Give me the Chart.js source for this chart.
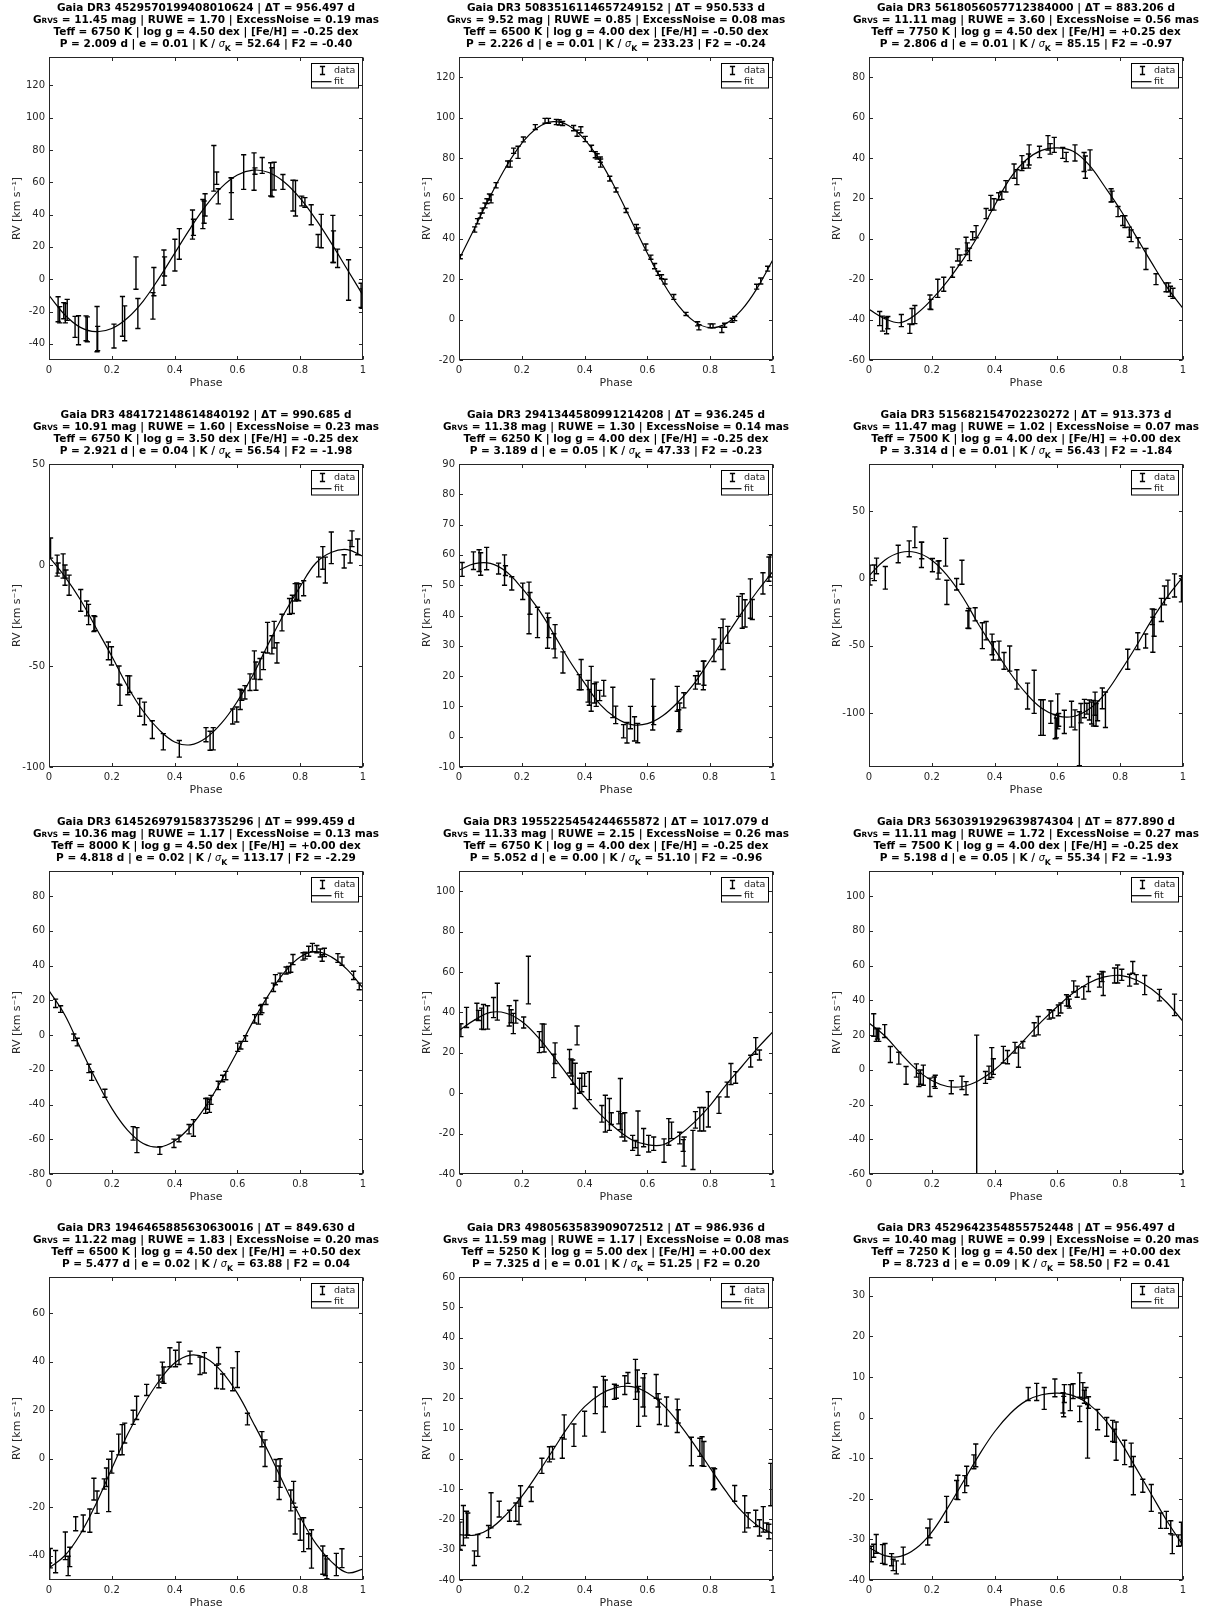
<!DOCTYPE html>
<html><head><meta charset="utf-8">
<script src="https://cdn.jsdelivr.net/npm/chart.js@4.4.1/dist/chart.umd.min.js"></script>
<style>
html,body{margin:0;padding:0;background:#fff;overflow:hidden;width:1206px;height:1611px;position:relative;}
canvas{position:absolute;}
</style></head><body>
<script>
// ---------- panel header values ----------
const sourceIds = ['4529570199408010624','5083516114657249152','5618056057712384000','484172148614840192','2941344580991214208','515682154702230272','6145269791583735296','1955225454244655872','5630391929639874304','1946465885630630016','4980563583909072512','4529642354855752448'];
const deltaT = ['956.497','950.533','883.206','990.685','936.245','913.373','999.459','1017.079','877.890','849.630','986.936','956.497'];
const gRvs = ['11.45','9.52','11.11','10.91','11.38','11.47','10.36','11.33','11.11','11.22','11.59','10.40'];
const ruwe = ['1.70','0.85','3.60','1.60','1.30','1.02','1.17','2.15','1.72','1.83','1.17','0.99'];
const excessNoise = ['0.19','0.08','0.56','0.23','0.14','0.07','0.13','0.26','0.27','0.20','0.08','0.20'];
const teff = ['6750','6500','7750','6750','6250','7500','8000','6750','7500','6500','5250','7250'];
const logg = ['4.50','4.00','4.50','3.50','4.00','4.00','4.50','4.00','4.00','4.50','5.00','4.50'];
const feh = ['-0.25','-0.50','+0.25','-0.25','-0.25','+0.00','+0.00','-0.25','-0.25','+0.50','+0.00','+0.00'];
const period = ['2.009','2.226','2.806','2.921','3.189','3.314','4.818','5.052','5.198','5.477','7.325','8.723'];
const ecc = ['0.01','0.01','0.01','0.04','0.05','0.01','0.02','0.00','0.05','0.02','0.01','0.09'];
const kSig = ['52.64','233.23','85.15','56.54','47.33','56.43','113.17','51.10','55.34','63.88','51.25','58.50'];
const f2 = ['-0.40','-0.24','-0.97','-1.98','-0.23','-1.84','-2.29','-0.96','-1.93','0.04','0.20','0.41'];

// ---------- axes ----------
const xTicks = [0, 0.2, 0.4, 0.6, 0.8, 1];
const yMins = [-50, -20, -60, -100, -10, -140, -80, -40, -60, -50, -40, -40];
const yMaxs = [137.5, 130, 90, 50, 90, 85, 94.5, 110, 114.5, 75, 60, 34.6];
const yTicks1 = [-40,-20,0,20,40,60,80,100,120];
const yTicks2 = [-20,0,20,40,60,80,100,120];
const yTicks3 = [-60,-40,-20,0,20,40,60,80];
const yTicks4 = [-100,-50,0,50];
const yTicks5 = [-10,0,10,20,30,40,50,60,70,80,90];
const yTicks6 = [-100,-50,0,50];
const yTicks7 = [-80,-60,-40,-20,0,20,40,60,80];
const yTicks8 = [-40,-20,0,20,40,60,80,100];
const yTicks9 = [-60,-40,-20,0,20,40,60,80,100];
const yTicks10 = [-40,-20,0,20,40,60];
const yTicks11 = [-40,-30,-20,-10,0,10,20,30,40,50,60];
const yTicks12 = [-40,-30,-20,-10,0,10,20,30];

// ---------- fitted curves (RV read at these phases) ----------
const fitPhase = [0,0.05,0.1,0.15,0.2,0.25,0.3,0.35,0.4,0.45,0.5,0.55,0.6,0.65,0.7,0.75,0.8,0.85,0.9,0.95,1];
const fit1 = [-10,-22,-29.8,-32.5,-30.5,-24,-13.5,0.5,16,31.5,45.5,57,64.5,67.5,66,60,50,37,22,6,-10];
const fit2 = [29.7,45.4,61.2,75.7,87.3,95,98,96,89.2,78.3,64.3,48.6,32.8,18.3,6.7,-1,-4,-2,4.8,15.7,29.7];
const fit3 = [-34.9,-39.5,-41.5,-37.3,-30,-20.9,-10.2,2.1,16.5,30,39,43.8,45,43.3,36.7,26,14.5,1.3,-11.8,-24.2,-34.5];
const fit4 = [4,-5.6,-17.2,-31.2,-45.2,-60,-72.4,-81.5,-87.6,-89,-85.6,-78.2,-67.5,-54.3,-38.6,-23.8,-10.6,1,6.3,7.6,4.3];
const fit5 = [55,57.1,57.2,54.5,49.1,42.5,34.2,25.4,17.7,10.6,6.2,4,4.3,7,11.7,17.7,25.4,33.1,40.8,48,54.6];
const fit6 = [2,13.6,19.3,19.3,13.6,2,-14.3,-34.6,-52.6,-70.4,-85.2,-96.4,-102,-102.5,-97.1,-86,-69.2,-50.7,-30.9,-13.6,1.2];
const fit7 = [25.6,11.7,-7.5,-25.8,-42.2,-54.7,-62.4,-64.5,-61,-52.8,-40.8,-25.8,-9.4,7.9,23.3,36.2,45,48.1,44.9,37.7,27.1];
const fit8 = [31,36.3,40,39.6,35.5,28,18.4,8.1,-1.8,-10.5,-17.5,-23,-25.5,-25.5,-20.9,-14.3,-6,4,13.1,22.2,30.5];
const fit9 = [27,19.6,9.6,0.4,-6.2,-9.6,-9.6,-6.2,0,8.7,18.3,27.9,36.5,44.2,50,53.5,54.4,51.9,46.5,38.5,27.9];
const fit10 = [-45,-40,-31,-18.5,-4,10,22,32,39.5,42.8,41.5,36,27,15,2.5,-11,-24,-35,-42.5,-47,-45.5];
const fit11 = [-25,-25.2,-23,-18.4,-12.4,-5,3,10.9,17.2,21.3,23.5,23.8,21.8,17.8,11.7,4.6,-3.1,-10.7,-17.3,-22,-24.7];
const fit12 = [-32,-34,-34.2,-32.2,-28.2,-22.3,-15.8,-9.3,-3.5,1,4.1,5.6,6,5.4,3.3,-0.4,-5.8,-12.4,-19,-25.6,-31.5];

// ---------- observations: [phase, RV, error] ----------
const obs1 = [[0.029,-18.6,7.7],[0.034,-22,5],[0.047,-19.5,5],[0.052,-21,6],[0.058,-19,6.5],[0.083,-29.5,6.5],[0.094,-31.6,9],[0.118,-30.4,7.7],[0.122,-31,7.7],[0.153,-30.9,14],[0.155,-36.7,7.5],[0.207,-35.2,7.4],[0.234,-23,12.3],[0.241,-27.3,10.8],[0.277,3.8,10],[0.283,-21.2,9.3],[0.331,-16.5,8.2],[0.334,-1.5,8.7],[0.366,7.2,10.9],[0.368,7.9,5.9],[0.401,14.9,9.8],[0.415,21.8,9.5],[0.457,33.8,9],[0.46,32.1,5],[0.49,40.3,9],[0.494,41.5,6.9],[0.497,46,6.9],[0.525,68.6,14.1],[0.534,62.5,3.8],[0.539,51.3,4.7],[0.58,49.9,12.9],[0.581,58.2,4.6],[0.62,66.3,10.7],[0.653,66.6,11.6],[0.656,66.9,2],[0.679,70.4,4.9],[0.706,61.8,10.3],[0.71,60,9],[0.717,63.8,8.6],[0.745,60.2,4.6],[0.777,51.7,9.5],[0.785,50.1,11],[0.805,48.4,3],[0.815,47.5,3],[0.835,39.9,6.2],[0.857,23.7,4],[0.867,29.8,10.3],[0.904,24.9,14.6],[0.906,20.1,9.8],[0.919,12.9,5.7],[0.954,-0.5,12.5],[0.994,-10,7.5],[0.997,-12,6]];
const obs2 = [[0.004,31.1,1],[0.05,44.6,1.3],[0.059,48.7,1.3],[0.068,51.5,1.2],[0.074,54,1.2],[0.083,56.5,1.2],[0.089,58.6,1.2],[0.097,60.7,1.5],[0.102,59.8,2],[0.118,66.5,1.3],[0.155,77,1.5],[0.163,77,1.5],[0.174,83.6,1.3],[0.188,82.8,3],[0.205,89.2,1.2],[0.243,95.3,1.2],[0.274,98.4,1.2],[0.285,98.4,1.2],[0.31,97.8,1.3],[0.319,97.6,1.3],[0.33,97.1,1],[0.365,94.8,1.3],[0.376,92.3,1.5],[0.388,94,1.5],[0.402,89.4,1.3],[0.422,84.8,1.5],[0.434,81.6,1.5],[0.44,80.8,1.3],[0.45,79.2,1.3],[0.451,77.5,2],[0.48,69.8,1.2],[0.5,64.2,1],[0.532,54,1],[0.565,45.9,1.2],[0.57,44.1,1.3],[0.595,35.9,1.5],[0.611,30.9,1],[0.623,26.5,1.3],[0.634,22.9,1],[0.645,21.2,1],[0.656,18.8,1.2],[0.684,11.2,1.2],[0.723,2.8,0.8],[0.76,-2.1,1],[0.764,-3.8,1.3],[0.8,-3.1,1],[0.809,-3.1,1],[0.837,-5.1,1.3],[0.846,-2.8,1],[0.87,-0.3,1],[0.878,0.5,1],[0.948,16.3,1.2],[0.961,19.1,1.5],[0.983,25.2,1.2]];
const obs3 = [[0.034,-39.5,3.5],[0.043,-42,3.7],[0.056,-43,4],[0.06,-41.5,3],[0.103,-40.5,3],[0.13,-44.5,2.3],[0.137,-38.5,4],[0.146,-37.5,4.5],[0.194,-31.3,3.5],[0.197,-32.5,2.5],[0.219,-24.5,4.5],[0.238,-22.5,3.5],[0.266,-16.5,2.5],[0.282,-8,3],[0.29,-10.5,2.5],[0.309,-3.5,4.3],[0.313,-4,2],[0.32,-7.7,3.1],[0.33,1.5,2],[0.341,3.5,3],[0.373,12.5,2.5],[0.388,17.8,3.7],[0.398,17,2.8],[0.413,21,1.8],[0.423,21.5,2],[0.436,26,2.8],[0.462,33.5,3.5],[0.471,30.5,3.7],[0.487,37.5,3.7],[0.492,36.5,1.6],[0.508,38.5,3.5],[0.51,41.5,5],[0.543,43,2.8],[0.57,47.5,3.6],[0.577,44.5,2.6],[0.59,46.5,3.7],[0.617,42.5,2.7],[0.628,40.5,2.3],[0.656,42.5,4],[0.685,38,4.7],[0.689,35.5,5.5],[0.704,39,5],[0.771,21.5,3.3],[0.774,21,2.6],[0.793,13.5,2.5],[0.808,9,2.4],[0.815,8.5,2.9],[0.829,3.3,2.5],[0.835,1.5,2.9],[0.857,-2,2.5],[0.882,-10,5.2],[0.914,-20,2.7],[0.946,-24,2.2],[0.954,-24,2.2],[0.96,-26,2.5],[0.968,-27,2.5]];
const obs4 = [[0.005,8.4,5],[0.026,-0.3,5.2],[0.029,-1.5,2.5],[0.045,-0.5,6],[0.051,-5,5],[0.054,-4.5,2],[0.064,-10,5],[0.101,-17.5,5.4],[0.12,-21.5,3.7],[0.126,-24.5,5],[0.143,-29,3.9],[0.146,-29,3.5],[0.189,-42.5,4.4],[0.199,-45,4.5],[0.223,-54.5,4.5],[0.226,-64.5,5],[0.251,-59.5,4.7],[0.257,-59,4.1],[0.289,-70.5,4.4],[0.304,-73.5,5.6],[0.329,-81.5,4.4],[0.364,-87.5,4],[0.415,-91,4.1],[0.5,-84,3.5],[0.513,-87,4.7],[0.523,-86,5.5],[0.585,-75,3.7],[0.598,-74,3.7],[0.609,-66.5,5],[0.614,-64.5,2.5],[0.624,-63,3.3],[0.64,-58,4.1],[0.654,-49.5,7],[0.659,-55,7],[0.672,-51.5,5.2],[0.683,-47.5,4.3],[0.696,-36,7.6],[0.71,-39.5,4.5],[0.717,-34.5,6.6],[0.726,-43.5,5],[0.742,-28.5,4.1],[0.766,-20.5,3.9],[0.775,-19.5,4.5],[0.784,-13.5,4.3],[0.789,-13,4.1],[0.795,-13.5,4.2],[0.811,-11.5,3.7],[0.859,-1,4.9],[0.872,3.5,5.6],[0.88,-2.5,6.4],[0.899,8.5,7.8],[0.94,1.8,3.3],[0.959,6.6,5.6],[0.965,13,3.9],[0.983,9,3.9]];
const obs5 = [[0.01,55.2,2.3],[0.046,58.1,2.9],[0.064,58.1,3.6],[0.069,57,3.7],[0.088,58.8,3.7],[0.126,55.5,1.8],[0.145,55,5],[0.148,54.8,1.6],[0.168,50.6,2.2],[0.203,48,2.7],[0.223,42.5,8.5],[0.226,44,3.6],[0.25,37.7,5],[0.282,35,5.8],[0.286,36,3.3],[0.302,31.5,2.5],[0.306,31.5,5.5],[0.331,24.5,3.5],[0.383,18,2.5],[0.389,20.5,5],[0.411,15,3.6],[0.415,13,2.6],[0.421,15.8,7.4],[0.432,14.3,3.2],[0.437,14,4],[0.448,13.6,1.7],[0.461,16,2.6],[0.49,11.3,5],[0.499,7.2,2.9],[0.524,1.8,2.2],[0.535,1.3,3.4],[0.546,6.3,3.7],[0.559,2.6,4],[0.569,1.2,3.2],[0.617,10.6,8.4],[0.62,7,3],[0.695,12.5,4.1],[0.7,5.3,3.6],[0.703,6.7,4.4],[0.716,12,2.5],[0.753,17.9,2.2],[0.762,19.5,2.1],[0.778,20.2,4.7],[0.78,21,4],[0.812,28.5,3.7],[0.833,32.4,3.6],[0.841,30.5,8.3],[0.856,33.6,2.8],[0.891,43,3.3],[0.902,41.5,5.7],[0.911,40.7,4.5],[0.928,45.6,6.5],[0.934,42,3.3],[0.968,50.6,3.5],[0.987,55.3,4],[0.991,56.4,3.7]];
const obs6 = [[0.003,2.5,7.4],[0.017,4.2,5.8],[0.024,9.3,5.8],[0.052,0.5,8.4],[0.093,18.2,6.5],[0.128,22,5.9],[0.146,30.6,7.7],[0.167,17.5,9.4],[0.168,20.8,6.2],[0.202,9.9,4.9],[0.22,6.2,6.7],[0.223,8.6,4.6],[0.244,19.5,10.3],[0.248,-10.3,9],[0.279,-4.3,4.3],[0.296,4.6,8.9],[0.315,-30.5,6.5],[0.318,-29.7,7.4],[0.338,-26.6,4.9],[0.361,-42.5,9.6],[0.373,-38.8,6.8],[0.392,-49,7.7],[0.396,-53.8,6.8],[0.414,-53.5,7],[0.43,-61.2,6.2],[0.448,-59.5,9.3],[0.471,-75,7.2],[0.505,-87.3,9.6],[0.526,-84.2,16],[0.547,-103.3,13.2],[0.555,-103.3,13.2],[0.579,-99.3,8.3],[0.593,-110,9],[0.597,-111,7.4],[0.601,-98.7,13],[0.604,-105,4.7],[0.622,-106.5,8.6],[0.645,-100.8,9.6],[0.656,-105,7.4],[0.67,-119,20],[0.675,-100,7.2],[0.686,-96.6,6.8],[0.694,-96.7,4],[0.702,-97.7,7.4],[0.709,-99.9,8.2],[0.715,-100,9.5],[0.72,-93,8.6],[0.723,-101.3,8.4],[0.728,-98.3,7.4],[0.743,-89,7.7],[0.753,-97.5,13.2],[0.824,-60,7.4],[0.856,-46.5,6.2],[0.881,-46.4,5.2],[0.902,-28.5,5.8],[0.904,-41.8,13],[0.908,-33,9.9],[0.931,-23.4,8.6],[0.941,-12.6,7],[0.952,-8,6.8],[0.973,-5.2,8.6],[0.995,-7.8,9.6],[0.998,0.6,1.5]];
const obs7 = [[0.021,18.3,2.4],[0.037,15,1.9],[0.079,-1.3,1.9],[0.09,-4,2.2],[0.127,-19.2,2.4],[0.136,-23.6,2.5],[0.178,-33.5,2.3],[0.268,-56.6,3.9],[0.28,-60.5,7.2],[0.353,-66.5,2.2],[0.398,-62.3,2.4],[0.414,-59.5,1.9],[0.446,-54.2,2.7],[0.46,-53.5,4.8],[0.499,-40.8,4.3],[0.504,-39.5,3.2],[0.511,-40.8,3.7],[0.516,-37.3,2.6],[0.539,-29,2.4],[0.553,-25,1.9],[0.563,-23.3,2.4],[0.601,-7,2.4],[0.611,-5.8,2.2],[0.626,-2,1.6],[0.655,9.4,2.4],[0.667,9.2,2.9],[0.674,14.4,2.6],[0.678,15.3,2.4],[0.691,19.5,1.9],[0.715,27.5,2.4],[0.721,31.9,2.9],[0.736,33.3,2.4],[0.755,37.2,2],[0.763,37.7,1.9],[0.77,38.9,2.7],[0.777,43.5,2.9],[0.809,45.3,2.1],[0.816,45.8,1.9],[0.827,48.3,2.9],[0.839,50.4,2.4],[0.853,49.5,2.1],[0.864,47.3,2.3],[0.87,44.4,1.9],[0.877,47.6,2.4],[0.92,44.4,2.5],[0.933,42.6,2.4],[0.97,34.4,2.4],[0.988,28,1.9]];
const obs8 = [[0.006,31.2,3.2],[0.024,37.5,5],[0.057,40.4,4.1],[0.062,38.5,2.5],[0.072,36.9,5.2],[0.078,37.7,6.2],[0.091,37.5,5.8],[0.11,42.4,5],[0.122,45.3,9.1],[0.16,38.3,5],[0.166,38.1,3.2],[0.173,34.5,5],[0.181,40.3,5.6],[0.206,35,2.7],[0.221,56,11.8],[0.256,25.3,5.2],[0.265,28.5,5.8],[0.271,27.3,6.9],[0.302,13.5,5.8],[0.306,19.8,5.1],[0.352,15.8,5.8],[0.357,12.7,4.2],[0.362,10.4,6],[0.37,3.6,11.2],[0.376,28.6,4.7],[0.384,3.7,3.7],[0.391,5.3,4.6],[0.4,6.6,3.2],[0.415,3.7,6.9],[0.455,-10.2,4.1],[0.466,-10.1,9.1],[0.479,-10.5,7.9],[0.485,-12.6,2.9],[0.509,-12.1,3.1],[0.514,-5.4,12.7],[0.519,-15.9,5.8],[0.528,-16.7,7],[0.553,-24.6,3.7],[0.562,-25.2,1.8],[0.57,-19.8,11],[0.588,-22,4.5],[0.604,-25,4.1],[0.62,-25,3.3],[0.653,-28.4,5.8],[0.668,-19.2,6.6],[0.677,-18.4,4.1],[0.703,-22.2,2.9],[0.714,-25.9,2.9],[0.717,-28.9,7.2],[0.745,-28.1,9.7],[0.753,-13.2,4.1],[0.767,-12.9,5.8],[0.779,-12.9,5.8],[0.794,-8,8.7],[0.828,-5.9,4.1],[0.854,1.8,3.7],[0.866,9.5,5.2],[0.881,7.8,2.9],[0.929,15.9,2.9],[0.945,23.4,4.1],[0.957,18.9,2.5]];
const obs9 = [[0.015,25.8,6.5],[0.023,20,3.6],[0.027,20.8,3.1],[0.031,20,3.6],[0.05,22.3,3.7],[0.068,8.8,4.6],[0.095,6.7,3.4],[0.118,-3.2,5.1],[0.151,-0.4,3.8],[0.159,-5.8,3.8],[0.164,-4.2,4.1],[0.173,-3.1,5.8],[0.194,-10.1,5.3],[0.208,-6.9,2.8],[0.211,-6.9,3.8],[0.262,-10,3.8],[0.296,-7.5,3.8],[0.309,-10.6,3.8],[0.343,-22,42],[0.371,-4.4,3.4],[0.382,-1.7,3.8],[0.391,4.2,8.6],[0.396,1.9,4.5],[0.428,8.7,4.8],[0.441,7.3,3.8],[0.465,12.7,3.1],[0.476,7.3,5.8],[0.49,14.4,1.9],[0.526,23.3,3.8],[0.539,25.4,5.3],[0.574,31.9,2.7],[0.585,32,2.2],[0.603,34.2,3.1],[0.611,35.6,2.9],[0.629,40,3.2],[0.635,39.5,2.9],[0.638,38.1,2.6],[0.652,48,3.2],[0.663,45,3.2],[0.684,44.3,3.6],[0.699,49.4,4.3],[0.734,51.4,3.8],[0.742,53.7,2.9],[0.746,49.6,6.8],[0.782,54.3,4.3],[0.792,55.2,5.2],[0.805,54.7,3.2],[0.83,51.6,3.4],[0.84,59,3.4],[0.851,52.1,2.7],[0.878,48.8,5.5],[0.925,43,3.3],[0.973,37.4,6.2]];
const obs10 = [[0.002,-48,5],[0.004,-41,4],[0.021,-42.4,4.6],[0.052,-35.9,5.7],[0.061,-44.2,4],[0.066,-40.5,4],[0.085,-26.8,2.9],[0.109,-26.6,3.4],[0.13,-25.5,4.8],[0.143,-12.5,4.5],[0.153,-17.9,4.6],[0.176,-10.4,2.1],[0.183,-7.6,3.8],[0.19,-11,10.8],[0.2,-1.4,4.5],[0.222,5.9,4.3],[0.233,7.9,6.2],[0.241,10.6,4.1],[0.268,17.1,2.9],[0.279,21,4.8],[0.311,28.4,2.3],[0.35,31.9,2.6],[0.361,35.8,4.1],[0.366,34.5,3.4],[0.385,41.9,3.9],[0.403,41.4,3.4],[0.414,43.5,4.6],[0.449,41.8,2.6],[0.481,38.4,3.6],[0.495,39.6,4.2],[0.534,33.8,4.8],[0.54,42.5,3.4],[0.553,31.9,3.1],[0.585,32.8,4.7],[0.6,36.8,7.4],[0.632,16.4,2.4],[0.678,8.1,3.1],[0.688,2.3,5.5],[0.723,-4.8,4.5],[0.733,-9.9,6.9],[0.736,-5.9,5.9],[0.77,-17.2,4.3],[0.779,-13.8,4.5],[0.784,-25.5,5.5],[0.8,-29.2,4.4],[0.811,-31.3,7],[0.827,-34,3.1],[0.836,-37.2,7.9],[0.872,-41.8,5.8],[0.88,-44.1,4.1],[0.885,-45.4,4.1],[0.915,-43.6,4.6],[0.933,-41,3.9]];
const obs11 = [[0.003,-25.4,4.5],[0.014,-22,6.6],[0.024,-21.7,4.4],[0.028,-21.5,3.6],[0.049,-32.8,2.4],[0.06,-28.6,3.6],[0.094,-24,2],[0.102,-17,5.8],[0.128,-16.6,2.6],[0.161,-18.8,1.8],[0.181,-17.6,3],[0.191,-17.3,4.4],[0.196,-12.3,3.4],[0.23,-11.7,2.4],[0.264,-2.3,2.5],[0.288,1.5,2.5],[0.298,2,2.1],[0.329,3.6,3.4],[0.335,10.5,4],[0.366,7.8,3.7],[0.4,11.6,4.1],[0.434,19.3,4.4],[0.46,18,9.2],[0.466,21.6,4.4],[0.495,22.1,2.5],[0.501,22.1,2.1],[0.528,24.3,3.1],[0.538,26.7,1.8],[0.562,26.2,6.6],[0.568,25.7,3.6],[0.572,17.3,6.6],[0.586,21.9,4.8],[0.591,21.1,7],[0.628,23.9,3.9],[0.634,19.3,2.2],[0.638,15.5,4.2],[0.661,15.6,4.8],[0.695,14.2,5.5],[0.698,14,2.2],[0.74,2.4,4.7],[0.767,3.8,3],[0.774,2.5,4.8],[0.78,1.6,4.1],[0.81,-6.6,3.6],[0.814,-6.6,3.3],[0.878,-11.4,2.6],[0.91,-18.2,6],[0.921,-20.3,2.5],[0.945,-19.7,2.7],[0.957,-22.8,2.7],[0.969,-20,4.2],[0.98,-22.7,1.5],[0.987,-24,2.4],[0.993,-8.5,7]];
const obs12 = [[0.007,-33.6,1.9],[0.015,-32.8,1.6],[0.023,-31.1,2.3],[0.043,-33.6,2.3],[0.051,-33.6,2.6],[0.072,-35,1.5],[0.077,-36.3,1.4],[0.087,-36.9,1.6],[0.109,-34,2.1],[0.187,-29.3,2.1],[0.194,-27.3,2.3],[0.247,-22.6,3.2],[0.279,-17.8,2.3],[0.283,-17.2,3],[0.305,-16.4,2.1],[0.311,-14.4,2.4],[0.334,-10.9,1.7],[0.34,-9.3,2.8],[0.507,5.8,1.6],[0.534,6.3,2.1],[0.558,4.7,2.7],[0.592,7.3,2.2],[0.618,3.6,2.5],[0.62,2.7,2.5],[0.622,5.9,2.2],[0.641,4.9,3.2],[0.65,6.5,1.8],[0.671,8,3],[0.671,0.9,1.9],[0.681,6.6,2],[0.686,5.1,1.6],[0.691,6.1,1.3],[0.696,-3.4,6.6],[0.699,3.7,1.4],[0.728,-0.5,2.5],[0.757,-2.3,2.3],[0.776,-3.3,2.6],[0.782,-4.5,1.6],[0.787,-5.8,4.7],[0.814,-8.6,3],[0.835,-9.2,2.9],[0.842,-14.3,4.7],[0.872,-16.8,1.6],[0.899,-19.8,3.3],[0.929,-25.4,1.9],[0.947,-25.2,2.1],[0.961,-27,1.6],[0.966,-31.2,2.3],[0.986,-30.3,1.4],[0.995,-28.7,2.9]];

const obsSets = [obs1,obs2,obs3,obs4,obs5,obs6,obs7,obs8,obs9,obs10,obs11,obs12];
const fitSets = [fit1,fit2,fit3,fit4,fit5,fit6,fit7,fit8,fit9,fit10,fit11,fit12];
const yTickSets = [yTicks1,yTicks2,yTicks3,yTicks4,yTicks5,yTicks6,yTicks7,yTicks8,yTicks9,yTicks10,yTicks11,yTicks12];

// ---------- rendering ----------
const FAM = '"DejaVu Sans", sans-serif';
Chart.defaults.font.family = FAM;
const AX = '#262626';
const B10 = 'bold 10.5px ' + FAM, B7 = 'bold 7.3px ' + FAM, I9 = 'italic 9.8px ' + FAM, BK = 'bold 7.8px ' + FAM;
const colLeft = [0, 410, 820], rowTop = [0, 407, 814, 1220];
const CW = 385, CH = 394;

function makePanel(i) {
  const obs = obsSets[i], fit = fitSets[i], yT = yTickSets[i];
  const cv = document.createElement('canvas');
  cv.width = CW; cv.height = CH;
  cv.style.left = colLeft[i % 3] + 'px';
  cv.style.top = rowTop[Math.floor(i / 3)] + 'px';
  cv.style.width = CW + 'px'; cv.style.height = CH + 'px';
  document.body.appendChild(cv);

  const titleLines = [
    [[`Gaia DR3 ${sourceIds[i]} | \u0394T = ${deltaT[i]} d`, B10, 0]],
    [['G', B10, 0], ['RVS', B7, 0], [` = ${gRvs[i]} mag | RUWE = ${ruwe[i]} | ExcessNoise = ${excessNoise[i]} mas`, B10, 0]],
    [[`Teff = ${teff[i]} K | log g = ${logg[i]} dex | [Fe/H] = ${feh[i]} dex`, B10, 0]],
    [[`P = ${period[i]} d | e = ${ecc[i]} | K / `, B10, 0], ['\u03C3', I9, 0], ['K', BK, 3.5], [` = ${kSig[i]} | F2 = ${f2[i]}`, B10, 0]]
  ];
  const baselines = [-46.4, -34.2, -22.0, -9.8];

  const errPlugin = {
    id: 'errbars' + i,
    afterDatasetsDraw(chart) {
      const {ctx, chartArea: a, scales: {x, y}} = chart;
      ctx.save();
      ctx.beginPath(); ctx.rect(a.left, a.top, a.right - a.left, a.bottom - a.top); ctx.clip();
      ctx.strokeStyle = '#000'; ctx.lineWidth = 1.4; ctx.lineCap = 'butt';
      obs.forEach(([p, v, e]) => {
        const px = x.getPixelForValue(p);
        const y1 = y.getPixelForValue(v - e), y2 = y.getPixelForValue(v + e);
        ctx.beginPath();
        ctx.moveTo(px, y1); ctx.lineTo(px, y2);
        ctx.moveTo(px - 2.6, y1); ctx.lineTo(px + 2.6, y1);
        ctx.moveTo(px - 2.6, y2); ctx.lineTo(px + 2.6, y2);
        ctx.stroke();
      });
      ctx.restore();
    }
  };

  const decoPlugin = {
    id: 'deco' + i,
    afterDraw(chart) {
      const {ctx, chartArea: a, scales: {x, y}} = chart;
      ctx.save();
      ctx.strokeStyle = AX; ctx.lineWidth = 1;
      const L = Math.round(a.left) + 0.5, R = Math.round(a.right) - 0.5;
      const T = Math.round(a.top) + 0.5, Bm = Math.round(a.bottom) - 0.5;
      ctx.strokeRect(L, T, R - L, Bm - T);
      ctx.beginPath();
      yT.forEach(v => {
        const py = Math.round(y.getPixelForValue(v)) + 0.5;
        ctx.moveTo(L, py); ctx.lineTo(L + 3.5, py);
        ctx.moveTo(R, py); ctx.lineTo(R - 3.5, py);
      });
      xTicks.forEach(v => {
        const px = Math.round(x.getPixelForValue(v)) + 0.5;
        ctx.moveTo(px, Bm); ctx.lineTo(px, Bm - 3.5);
        ctx.moveTo(px, T); ctx.lineTo(px, T + 3.5);
      });
      ctx.stroke();
      // legend
      const bw = 47, bh = 24.5;
      const bx = Math.round(a.right - 5.5 - bw) + 0.5, by = Math.round(a.top + 5.5) + 0.5;
      ctx.fillStyle = '#fff'; ctx.fillRect(bx, by, bw, bh);
      ctx.strokeStyle = '#000'; ctx.lineWidth = 1; ctx.strokeRect(bx, by, bw, bh);
      const r1 = by + 7, r2 = by + 18.2, ix = bx + 11;
      ctx.lineWidth = 1.4; ctx.beginPath();
      ctx.moveTo(ix, r1 - 4); ctx.lineTo(ix, r1 + 4);
      ctx.moveTo(ix - 2.6, r1 - 4); ctx.lineTo(ix + 2.6, r1 - 4);
      ctx.moveTo(ix - 2.6, r1 + 4); ctx.lineTo(ix + 2.6, r1 + 4);
      ctx.stroke();
      ctx.lineWidth = 1.2; ctx.beginPath();
      ctx.moveTo(bx, r2); ctx.lineTo(bx + 20, r2); ctx.stroke();
      ctx.fillStyle = AX; ctx.font = '9.5px ' + FAM;
      ctx.textAlign = 'left'; ctx.textBaseline = 'middle';
      ctx.fillText('data', bx + 22.5, r1);
      ctx.fillText('fit', bx + 22.5, r2);
      // title
      ctx.fillStyle = '#000'; ctx.textBaseline = 'alphabetic';
      const cx = (a.left + a.right) / 2;
      titleLines.forEach((segs, li) => {
        let total = 0;
        segs.forEach(s => { ctx.font = s[1]; total += ctx.measureText(s[0]).width; });
        let xx = cx - total / 2;
        const base = a.top + baselines[li];
        segs.forEach(s => {
          ctx.font = s[1];
          ctx.fillText(s[0], xx, base + s[2]);
          xx += ctx.measureText(s[0]).width;
        });
      });
      ctx.restore();
    }
  };

  new Chart(cv, {
    type: 'scatter',
    data: {
      datasets: [
        { label: 'data', data: obs.map(o => ({x: o[0], y: o[1]})), pointRadius: 0, showLine: false, borderColor: '#000' },
        { label: 'fit', data: fitPhase.map((p, k) => ({x: p, y: fit[k]})), showLine: true, borderColor: '#000',
          borderWidth: 1.2, pointRadius: 0, tension: 0.4, fill: false }
      ]
    },
    options: {
      responsive: false, animation: false, events: [],
      layout: { padding: { left: 0, top: 57, right: 22, bottom: 0 } },
      plugins: { legend: { display: false }, tooltip: { enabled: false }, title: { display: false } },
      scales: {
        x: {
          type: 'linear', min: 0, max: 1,
          grid: { display: false, drawTicks: false }, border: { display: false },
          afterBuildTicks: s => { s.ticks = xTicks.map(v => ({ value: v })); },
          afterFit: s => { s.height = 34; },
          ticks: { padding: 4, color: AX, font: { size: 10 }, maxRotation: 0, autoSkip: false, callback: v => String(v) },
          title: { display: true, text: 'Phase', color: AX, font: { size: 11 }, padding: { top: 0, bottom: 4 } }
        },
        y: {
          type: 'linear', min: yMins[i], max: yMaxs[i],
          grid: { display: false, drawTicks: false }, border: { display: false },
          afterBuildTicks: s => { s.ticks = yT.map(v => ({ value: v })); },
          afterFit: s => { s.width = 49; },
          ticks: { padding: 4, color: AX, font: { size: 10 }, autoSkip: false, callback: v => String(v) },
          title: { display: true, text: 'RV [km s\u207B\u00B9]', color: AX, font: { size: 11 }, padding: { top: 10.4, bottom: 0 } }
        }
      }
    },
    plugins: [errPlugin, decoPlugin]
  });
}

for (let i = 0; i < 12; i++) makePanel(i);
</script>
</body></html>
